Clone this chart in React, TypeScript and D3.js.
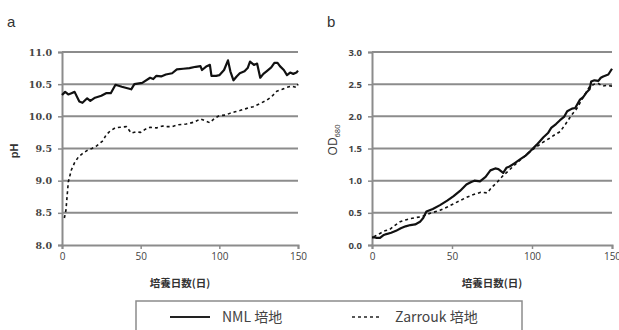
import React, { useEffect, useRef } from 'react';
import * as d3 from 'd3';

// days and values
const phNmlDays = [0, 2, 4, 6, 8, 11, 13, 16, 18, 21, 25, 28, 31, 34, 38, 44, 46, 51, 56, 58, 60, 63, 66, 70, 73, 77, 81, 85, 88, 89, 92, 94, 95, 98, 100, 103, 105.5, 107, 109, 111, 113, 116, 118, 119.5, 122, 124, 126, 128, 130, 133, 135, 137, 138.5, 141, 143, 145, 147, 149, 150];
const phNml = [10.33, 10.38, 10.34, 10.36, 10.38, 10.23, 10.21, 10.28, 10.24, 10.29, 10.32, 10.36, 10.36, 10.49, 10.46, 10.42, 10.5, 10.52, 10.6, 10.58, 10.63, 10.62, 10.65, 10.67, 10.73, 10.74, 10.75, 10.77, 10.78, 10.72, 10.78, 10.8, 10.63, 10.63, 10.64, 10.72, 10.87, 10.7, 10.56, 10.62, 10.67, 10.7, 10.75, 10.85, 10.8, 10.82, 10.6, 10.66, 10.7, 10.76, 10.83, 10.83, 10.78, 10.72, 10.64, 10.68, 10.66, 10.68, 10.71];

const phZarDays = [1.5, 2.5, 4, 6, 8, 10.5, 13, 16, 19, 22, 26, 28, 30.5, 33.7, 37, 41, 44, 47, 50, 53, 56, 60, 64, 67, 70, 74, 79, 84, 88, 91, 94, 97, 100, 104, 107, 110, 113, 117, 121.5, 126, 130, 133, 136.5, 140, 143, 146, 149, 150];
const phZar = [8.42, 8.54, 8.98, 9.17, 9.28, 9.37, 9.42, 9.47, 9.5, 9.54, 9.62, 9.71, 9.77, 9.82, 9.83, 9.84, 9.74, 9.76, 9.75, 9.8, 9.83, 9.82, 9.85, 9.84, 9.84, 9.87, 9.88, 9.91, 9.96, 9.93, 9.9, 9.97, 10.01, 10.02, 10.05, 10.07, 10.09, 10.12, 10.15, 10.2, 10.25, 10.3, 10.39, 10.42, 10.45, 10.47, 10.45, 10.5];

const odNmlDays = [0, 1, 3, 5, 7, 9, 12, 15, 18, 21, 24, 27, 30, 32, 34, 38, 42.5, 47, 51, 55, 59, 62, 64, 67.5, 71, 74, 77, 79, 82, 84, 86, 89, 92.5, 96, 99, 103, 107, 110, 112, 115, 117.5, 120, 122, 125, 127, 130, 132, 134, 136, 137, 139, 141.5, 143, 144.5, 147.7, 150];
const odNml = [0.12, 0.12, 0.11, 0.11, 0.15, 0.17, 0.19, 0.22, 0.26, 0.29, 0.31, 0.32, 0.36, 0.42, 0.52, 0.56, 0.62, 0.69, 0.76, 0.84, 0.94, 0.98, 1.0, 0.99, 1.06, 1.16, 1.19, 1.18, 1.12, 1.2, 1.22, 1.27, 1.33, 1.39, 1.46, 1.56, 1.67, 1.74, 1.82, 1.88, 1.94, 1.99, 2.08, 2.12, 2.13, 2.26, 2.3, 2.37, 2.42, 2.54, 2.56, 2.55, 2.6, 2.62, 2.65, 2.74];

const odZarDays = [1, 2, 5, 8, 11, 14, 17.5, 21, 24, 28, 31, 36, 42.5, 47, 51, 55, 59, 63, 68, 72, 75, 78, 82, 86, 89, 92.5, 96, 99, 103, 107, 111, 114, 117.5, 121, 125, 128, 130, 133, 136, 139, 141.5, 144, 146.7, 150];
const odZar = [0.13, 0.14, 0.18, 0.22, 0.24, 0.3, 0.36, 0.39, 0.41, 0.43, 0.44, 0.49, 0.54, 0.59, 0.64, 0.69, 0.74, 0.78, 0.82, 0.81, 0.9, 0.97, 1.08, 1.17, 1.24, 1.32, 1.39, 1.46, 1.53, 1.6, 1.66, 1.71, 1.76, 1.88, 2.03, 2.12, 2.21, 2.34, 2.46, 2.5, 2.51, 2.47, 2.48, 2.47];

const xTicks = [0, 50, 100, 150];
const phTicks = [8.0, 8.5, 9.0, 9.5, 10.0, 10.5, 11.0];
const odTicks = [0.0, 0.5, 1.0, 1.5, 2.0, 2.5, 3.0];

const xLabel = '培養日数(日)';
const legendItems = ['NML 培地', 'Zarrouk 培地'];

const zip = (xs: number[], ys: number[]) => xs.map((x, i) => [x, ys[i]] as [number, number]);

function drawPanel(svg: any, opts: any) {
    const { left, right, top, bottom, yDomain, yTicks, tickFont, series, letter } = opts;
    const g = svg.append('g');

    const xScale = d3.scaleLinear().domain([0, 150]).range([left, right]);
    const yScale = d3.scaleLinear().domain(yDomain).range([bottom, top]);

    // grid lines
    g.selectAll('.grid')
        .data(yTicks.slice(1))
        .enter()
        .append('line')
        .attr('x1', left)
        .attr('x2', right)
        .attr('y1', (d: number) => yScale(d))
        .attr('y2', (d: number) => yScale(d))
        .attr('stroke', '#8c8c8c')
        .attr('stroke-width', 2);

    // y axis
    const yAxis = d3.axisLeft(yScale).tickValues(yTicks).tickSize(4).tickPadding(6)
        .tickFormat(d3.format('.1f') as any);
    const ya = g.append('g').attr('transform', `translate(${left},0)`).call(yAxis);
    ya.select('.domain').attr('stroke', '#8c8c8c').attr('stroke-width', 2);
    ya.selectAll('line').attr('stroke', '#8c8c8c').attr('stroke-width', 1.5);
    ya.selectAll('text')
        .attr('fill', '#444')
        .style('font-family', tickFont)
        .style('font-weight', 'bold')
        .style('font-size', '9.5px');

    // x axis
    const xAxis = d3.axisBottom(xScale).tickValues(xTicks).tickSize(4).tickPadding(4)
        .tickFormat(d3.format('d') as any);
    const xa = g.append('g').attr('transform', `translate(0,${bottom})`).call(xAxis);
    xa.select('.domain').attr('stroke', '#8c8c8c').attr('stroke-width', 2);
    xa.selectAll('line').attr('stroke', '#8c8c8c').attr('stroke-width', 1.5);
    xa.selectAll('text')
        .attr('fill', '#444')
        .style('font-family', '"Open Sans", "DejaVu Sans", sans-serif')
        .style('font-size', '10px');

    const line = d3.line<[number, number]>()
        .x((d) => xScale(d[0]))
        .y((d) => yScale(d[1]));

    series.forEach((s: any) => {
        g.append('path')
            .attr('d', line(s.points))
            .attr('fill', 'none')
            .attr('stroke', '#111')
            .attr('stroke-width', s.dashed ? 1.6 : 2.2)
            .attr('stroke-dasharray', s.dashed ? '3,3' : null)
            .attr('stroke-linejoin', 'round');
    });

    // x axis title
    g.append('text')
        .attr('x', (left + right) / 2)
        .attr('y', bottom + 42)
        .attr('text-anchor', 'middle')
        .attr('fill', '#333')
        .style('font-family', '"Noto Sans CJK JP", sans-serif')
        .style('font-weight', 'bold')
        .style('font-size', '10.5px')
        .text(xLabel);

    g.append('text')
        .attr('x', letter.x)
        .attr('y', letter.y)
        .attr('fill', '#333')
        .style('font-family', '"Liberation Sans", Arial, sans-serif')
        .style('font-size', '15px')
        .text(letter.text);

    return g;
}

export default function App() {
    const ref = useRef<SVGSVGElement | null>(null);

    useEffect(() => {
        const svg = d3.select(ref.current);
        svg.selectAll('*').remove();

        const top = 52;
        const bottom = 245;

        drawPanel(svg, {
            left: 62,
            right: 298,
            top,
            bottom,
            yDomain: [8, 11],
            yTicks: phTicks,
            tickFont: '"DejaVu Serif", "Liberation Serif", serif',
            letter: { x: 7, y: 27, text: 'a' },
            series: [
                { points: zip(phNmlDays, phNml), dashed: false },
                { points: zip(phZarDays, phZar), dashed: true },
            ],
        });

        const b = drawPanel(svg, {
            left: 372,
            right: 612,
            top,
            bottom,
            yDomain: [0, 3],
            yTicks: odTicks,
            tickFont: '"Open Sans", "DejaVu Sans", sans-serif',
            letter: { x: 327, y: 27, text: 'b' },
            series: [
                { points: zip(odNmlDays, odNml), dashed: false },
                { points: zip(odZarDays, odZar), dashed: true },
            ],
        });

        // y titles
        svg.append('text')
            .attr('transform', 'translate(18,151) rotate(-90)')
            .attr('text-anchor', 'middle')
            .attr('fill', '#333')
            .style('font-family', '"Liberation Sans", Arial, sans-serif')
            .style('font-weight', 'bold')
            .style('font-size', '11px')
            .text('pH');

        const od = b.append('text')
            .attr('transform', 'translate(337,140) rotate(-90)')
            .attr('text-anchor', 'middle')
            .attr('fill', '#333')
            .style('font-family', '"Open Sans", "DejaVu Sans", sans-serif')
            .style('font-size', '12px');
        od.append('tspan').text('OD');
        od.append('tspan').attr('dy', 3).style('font-size', '7.5px').text('680');

        // legend
        const lg = svg.append('g');
        lg.append('rect')
            .attr('x', 136)
            .attr('y', 301)
            .attr('width', 386)
            .attr('height', 50)
            .attr('fill', 'none')
            .attr('stroke', '#8c8c8c')
            .attr('stroke-width', 1.5);

        const legendX = [{ x1: 170, x2: 210, tx: 222, dashed: false }, { x1: 352, x2: 379, tx: 395, dashed: true }];
        legendItems.forEach((name, i) => {
            const l = legendX[i];
            lg.append('line')
                .attr('x1', l.x1)
                .attr('x2', l.x2)
                .attr('y1', 317)
                .attr('y2', 317)
                .attr('stroke', '#222')
                .attr('stroke-width', l.dashed ? 1.6 : 2)
                .attr('stroke-dasharray', l.dashed ? '3,3' : null);
            lg.append('text')
                .attr('x', l.tx)
                .attr('y', 322)
                .attr('fill', '#444')
                .style('font-family', '"Noto Sans CJK JP", sans-serif')
                .style('font-size', '14px')
                .text(name);
        });
    }, []);

    return (
        <div style={{ position: 'fixed', left: 0, top: 0 }}>
            <svg ref={ref} width={619} height={330} style={{ display: 'block', background: '#fff' }} />
        </div>
    );
}
